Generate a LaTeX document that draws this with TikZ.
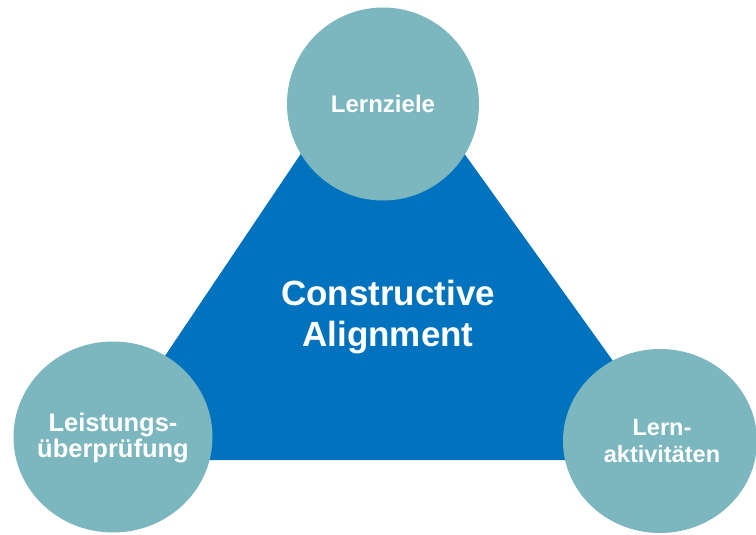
\documentclass[tikz,border=0pt]{standalone}
\usepackage{fontspec}
\usetikzlibrary{shapes.geometric}
\setmainfont{Liberation Sans}
\definecolor{triblue}{RGB}{0,114,190}
\definecolor{circteal}{RGB}{124,182,190}
\begin{document}
\begin{tikzpicture}[x=1pt,y=-1pt,
  corner/.style={ellipse, fill=circteal, inner sep=0pt},
  cornertext/.style={text=white, align=center, inner sep=0pt},
  title/.style={text=white, align=center, font=\bfseries\fontsize{35}{41}\selectfont}]
\useasboundingbox (0,0) rectangle (756,535);
% central triangle
\coordinate (apex) at (380,36);
\coordinate (bl) at (95,460);
\coordinate (br) at (684,460);
\fill[triblue] (apex) -- (bl) -- (br) -- cycle;
% three corner circles
\node[corner, minimum width=192pt, minimum height=193pt] (ziele) at (383,104) {};
\node[corner, minimum width=199pt, minimum height=191pt] (pruef) at (113,437) {};
\node[corner, minimum width=194pt, minimum height=184pt] (aktiv) at (660,441) {};
% their labels
\node[cornertext, font=\bfseries\fontsize{24}{27}\selectfont] (zieletext) at (ziele.center) {Lernziele};
\node[cornertext, font=\bfseries\fontsize{25.5}{26}\selectfont] (prueftext) at ([yshift=-1pt]pruef.center) {Leistungs-\\überprüfung};
\node[cornertext, font=\bfseries\fontsize{23.5}{27}\selectfont] (aktivtext) at ([xshift=2pt]aktiv.center) {Lern-\\aktivitäten};
% centre label
\node[title] (ca) at (388,317) {Constructive\\Alignment};
\end{tikzpicture}
\end{document}
